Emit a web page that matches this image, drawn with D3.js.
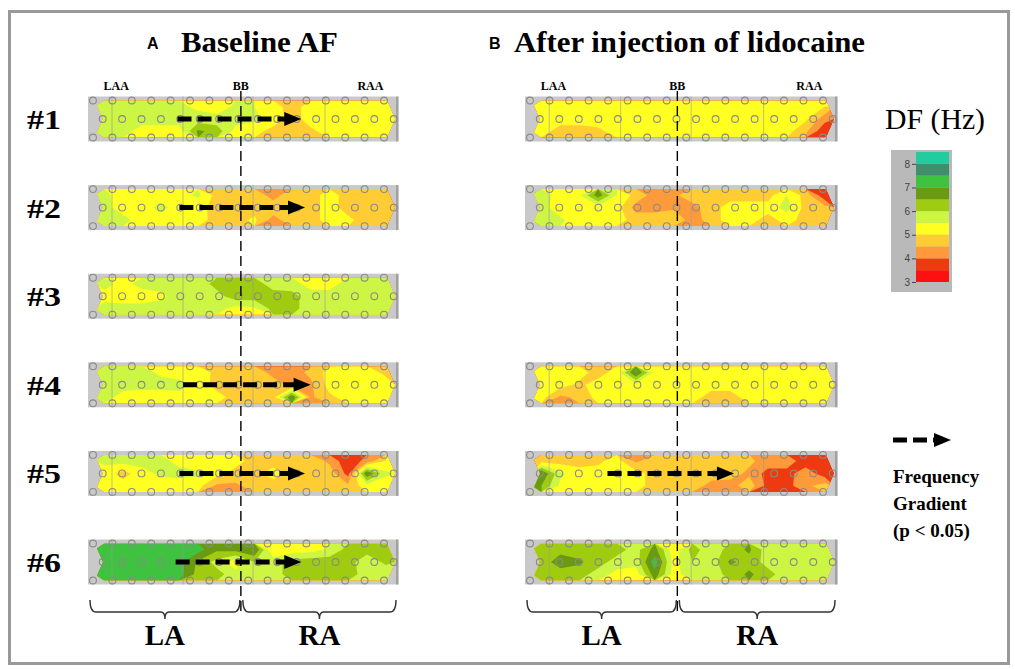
<!DOCTYPE html>
<html>
<head>
<meta charset="utf-8">
<script src="https://cdn.jsdelivr.net/npm/d3@7"></script>
<style>
  body { margin: 0; background: #fff; }
  svg { display: block; }
</style>
</head>
<body>
<div id="chart"></div>
<script>
// dominant frequency (Hz) per electrode, rows = top / middle / bottom, 16 columns LAA -> RAA
const baselineDF1 = [
  [5.7, 5.7, 5.7, 5.7, 5.6, 5.4, 5.2, 5.6, 5.5, 5.2, 4.8, 5.2, 5.2, 5.2, 5.2, 5.2],
  [5.7, 5.7, 5.7, 5.7, 5.7, 5.7, 5.7, 5.7, 5.6, 5.3, 4.8, 5.2, 5.2, 5.2, 5.2, 5.2],
  [5.7, 5.7, 5.3, 5.3, 5.3, 6.6, 6.3, 5.3, 5.2, 4.8, 4.6, 4.9, 5.2, 5.2, 5.2, 5.2]
];
const baselineDF2 = [
  [5.6, 5.3, 5.2, 5.2, 5.3, 5.6, 4.8, 4.8, 4.8, 4.3, 4.8, 4.8, 5.2, 4.8, 4.8, 4.8],
  [5.7, 5.2, 5.2, 5.7, 5.2, 5.1, 4.9, 4.8, 4.8, 4.8, 4.8, 4.8, 5.2, 4.8, 4.8, 4.8],
  [5.7, 5.7, 5.2, 5.2, 5.2, 5.2, 4.8, 4.8, 5.1, 4.3, 4.8, 4.8, 5.2, 5.1, 4.8, 4.8]
];
const baselineDF3 = [
  [5.7, 5.3, 5.7, 5.7, 5.7, 5.7, 6.2, 6.3, 6.2, 5.8, 5.7, 5.3, 5.3, 5.7, 5.7, 5.7],
  [5.3, 5.2, 5.2, 5.4, 5.7, 5.7, 5.8, 6.3, 6.3, 6.2, 6.2, 5.7, 5.7, 5.7, 5.7, 5.7],
  [5.7, 5.7, 5.7, 5.7, 5.7, 5.7, 5.7, 5.3, 5.4, 6.2, 6.2, 5.7, 5.7, 5.7, 5.7, 5.7]
];
const baselineDF4 = [
  [5.7, 5.7, 5.7, 5.4, 5.2, 5.2, 4.9, 4.8, 4.9, 4.3, 4.3, 4.6, 5.2, 5.2, 5.2, 4.9],
  [5.7, 5.7, 5.7, 5.7, 5.7, 5.3, 4.8, 4.8, 4.9, 4.8, 4.3, 4.4, 5.2, 5.2, 5.2, 5.2],
  [5.7, 5.3, 5.2, 5.2, 5.3, 5.2, 5.2, 4.8, 4.8, 4.8, 7.0, 4.4, 4.9, 5.2, 5.2, 5.2]
];
const baselineDF5 = [
  [5.6, 5.7, 5.7, 5.7, 5.3, 5.2, 5.2, 5.2, 4.8, 4.8, 4.8, 4.8, 4.4, 3.6, 4.2, 5.0],
  [5.3, 4.8, 5.3, 5.6, 5.7, 5.6, 5.2, 4.8, 4.8, 5.2, 4.8, 4.8, 4.8, 3.8, 7.0, 5.6],
  [5.2, 5.2, 5.2, 5.2, 5.2, 5.2, 4.4, 4.4, 4.8, 4.8, 4.8, 4.8, 4.8, 4.6, 5.3, 5.2]
];
const baselineDF6 = [
  [7.2, 7.2, 7.2, 7.2, 7.2, 7.2, 6.6, 6.7, 7.0, 5.0, 5.2, 5.3, 5.6, 6.2, 6.2, 6.2],
  [7.2, 7.2, 7.2, 7.2, 7.2, 6.4, 5.8, 5.2, 6.0, 5.8, 6.2, 6.3, 6.3, 6.2, 5.7, 6.1],
  [7.2, 7.2, 7.2, 7.2, 7.2, 6.3, 6.2, 5.7, 5.6, 5.8, 6.2, 6.3, 6.3, 6.3, 5.7, 5.7]
];

const lidocaineDF1 = [
  [5.2, 5.2, 5.2, 5.2, 5.2, 5.2, 5.2, 5.2, 5.2, 5.2, 5.2, 5.2, 5.2, 5.2, 5.2, 5.0],
  [5.2, 5.2, 5.2, 5.2, 5.2, 5.2, 5.2, 5.2, 5.2, 5.2, 5.2, 5.2, 5.2, 5.2, 5.1, 4.2],
  [5.2, 4.8, 4.8, 4.9, 5.2, 5.2, 5.2, 5.2, 5.2, 5.2, 5.2, 5.2, 5.2, 5.2, 4.6, 3.6]
];
const lidocaineDF2 = [
  [5.7, 5.3, 5.4, 6.8, 5.5, 4.8, 4.3, 4.4, 4.8, 4.8, 4.8, 4.8, 4.8, 5.5, 4.8, 3.6],
  [5.7, 5.2, 5.2, 5.2, 5.2, 4.3, 4.3, 4.4, 4.3, 4.8, 5.2, 5.2, 5.2, 5.7, 4.8, 4.7],
  [5.7, 5.6, 5.2, 5.2, 5.2, 4.8, 4.8, 5.0, 4.2, 4.8, 5.2, 5.2, 4.8, 5.2, 4.8, 4.8]
];
const lidocaineDF4 = [
  [5.2, 5.2, 5.2, 4.8, 5.2, 7.1, 5.3, 5.2, 5.2, 5.2, 5.2, 5.2, 5.2, 5.2, 5.2, 5.2],
  [5.2, 5.2, 4.9, 5.2, 5.2, 5.3, 5.2, 5.2, 5.2, 5.2, 5.2, 5.2, 5.2, 5.2, 5.2, 5.2],
  [5.2, 4.4, 4.6, 5.2, 5.2, 5.2, 5.2, 5.2, 5.2, 4.8, 4.8, 5.2, 5.2, 5.2, 5.2, 5.2]
];
const lidocaineDF5 = [
  [4.8, 4.8, 4.8, 4.9, 5.2, 4.4, 4.8, 4.8, 4.8, 4.8, 4.8, 4.6, 4.3, 4.3, 3.7, 3.7],
  [7.0, 5.6, 5.2, 5.2, 5.2, 5.2, 4.8, 4.8, 4.8, 4.8, 4.7, 4.4, 3.8, 3.8, 4.3, 3.7],
  [6.5, 5.4, 5.2, 5.2, 5.2, 5.2, 4.8, 4.8, 4.8, 4.3, 4.3, 4.8, 3.8, 3.8, 4.4, 4.7]
];
const lidocaineDF6 = [
  [6.2, 6.3, 6.2, 6.2, 6.2, 5.8, 6.7, 5.2, 6.2, 5.7, 6.2, 6.6, 5.7, 5.7, 5.7, 5.7],
  [6.2, 6.8, 6.6, 6.2, 5.8, 5.7, 7.3, 5.3, 6.0, 5.7, 6.6, 6.3, 5.8, 5.7, 5.7, 5.7],
  [6.2, 6.2, 6.2, 5.8, 5.3, 5.2, 6.8, 5.3, 5.8, 5.7, 6.2, 6.6, 6.2, 5.7, 5.7, 5.7]
];

const rowLabels = ['#1', '#2', '#3', '#4', '#5', '#6'];
const baselineStrips = [baselineDF1, baselineDF2, baselineDF3, baselineDF4, baselineDF5, baselineDF6];
const lidocaineStrips = [lidocaineDF1, lidocaineDF2, null, lidocaineDF4, lidocaineDF5, lidocaineDF6];

// significant frequency gradients, in electrode-column units
const baselineArrows = [
  { row: 0, from: 4.4, to: 11.0 },
  { row: 1, from: 4.5, to: 11.2 },
  { row: 3, from: 4.7, to: 11.5 },
  { row: 4, from: 4.5, to: 11.2 },
  { row: 5, from: 4.3, to: 11.0 }
];
const lidocaineArrows = [{ row: 4, from: 4.0, to: 10.7 }];

const dfThresholds = [3, 3.5, 4, 4.5, 5, 5.5, 6, 6.5, 7, 7.5, 8];
const dfColors = ['#ff1010', '#ee3a10', '#ff9a3a', '#ffcc33', '#ffff22', '#ccf544',
  '#9fcc10', '#6a9a12', '#3fc23f', '#3f8f6c', '#22cc9f'];
const dfTicks = [3, 4, 5, 6, 7, 8];
const siteLabels = ['LAA', 'BB', 'RAA'];
const atriumLabels = ['LA', 'RA'];

const width = 1015;
const height = 669;
const serif = "'Liberation Serif', 'DejaVu Serif', serif";
const sans = "'Liberation Sans', Arial, sans-serif";

const nCols = 16;
const nRows = 3;
const halfStrip = 18.5;

const svg = d3
  .select('#chart')
  .append('svg')
  .attr('width', width)
  .attr('height', height);

svg.append('rect')
  .attr('x', 9.5).attr('y', 11.5)
  .attr('width', 999).attr('height', 652)
  .attr('fill', '#fff')
  .attr('stroke', '#999')
  .attr('stroke-width', 3);

const rowY = d3.scaleLinear().domain([0, 5]).range([119, 562]);
const color = d3.scaleThreshold().domain(dfThresholds.slice(1)).range(dfColors);

// row labels
svg.append('g')
  .selectAll('text')
  .data(rowLabels)
  .join('text')
  .attr('x', 27)
  .attr('y', (d, i) => rowY(i) + 10)
  .attr('font-family', serif)
  .attr('font-weight', 'bold')
  .attr('font-size', 28)
  .attr('textLength', 34)
  .attr('lengthAdjust', 'spacingAndGlyphs')
  .text((d) => d);

const panels = [
  { letter: 'A', title: 'Baseline AF', letterX: 147, titleX: 181, titleW: 157,
    x0: 95, x1: 395, bbCol: 7.78, strips: baselineStrips, arrows: baselineArrows },
  { letter: 'B', title: 'After injection of lidocaine', letterX: 489, titleX: 514, titleW: 351,
    x0: 532, x1: 834, bbCol: 7.7, strips: lidocaineStrips, arrows: lidocaineArrows }
];

const defs = svg.append('defs');

function drawArrow(g, xa, xb, y) {
  g.append('line')
    .attr('x1', xa).attr('x2', xb - 14)
    .attr('y1', y).attr('y2', y)
    .attr('stroke', '#000')
    .attr('stroke-width', 5)
    .attr('stroke-dasharray', '14,6');
  g.append('path')
    .attr('d', `M${xb - 17},${y - 7}L${xb},${y}L${xb - 17},${y + 7}Z`)
    .attr('fill', '#000');
}

panels.forEach((p, pi) => {
  const g = svg.append('g');
  const gx = d3.scaleLinear().domain([0, nCols]).range([p.x0, p.x1]);
  const ex = d3.scaleLinear().domain([0, 15]).range([p.x0 - 2, p.x1 - 11]);
  const step = ex(1) - ex(0);
  const bbX = gx(p.bbCol);

  g.append('text')
    .attr('x', p.letterX).attr('y', 49)
    .attr('font-family', sans).attr('font-weight', 'bold').attr('font-size', 16)
    .text(p.letter);
  g.append('text')
    .attr('x', p.titleX).attr('y', 52)
    .attr('font-family', serif).attr('font-weight', 'bold').attr('font-size', 30)
    .attr('textLength', p.titleW).attr('lengthAdjust', 'spacingAndGlyphs')
    .text(p.title);

  // LAA / BB / RAA
  g.selectAll('.site')
    .data(siteLabels)
    .join('text')
    .attr('x', (d, i) => [ex(1.2), bbX, ex(14.3)][i])
    .attr('y', 90)
    .attr('text-anchor', 'middle')
    .attr('font-family', serif).attr('font-weight', 'bold').attr('font-size', 12)
    .text((d) => d);

  p.strips.forEach((values, r) => {
    if (!values) return;
    const cy = rowY(r);
    const top = cy - halfStrip;
    const bot = cy + halfStrip;
    const gy = d3.scaleLinear().domain([0, nRows]).range([top, bot]);
    const s = g.append('g');

    s.append('rect')
      .attr('x', p.x0 - 7).attr('y', top - 4)
      .attr('width', p.x1 - p.x0 + 11).attr('height', bot - top + 8)
      .attr('fill', '#c9c9c9');

    const clipId = `clip-${pi}-${r}`;
    defs.append('clipPath').attr('id', clipId)
      .append('path')
      .attr('d', `M${p.x0},${top}L${p.x1 - 8},${top}L${p.x1},${cy}L${p.x1 - 8},${bot}L${p.x0},${bot}L${p.x0 + 8},${cy}Z`);

    const contours = d3.contours()
      .size([nCols, nRows])
      .thresholds(dfThresholds)(values.flat());

    const proj = d3.geoTransform({
      point: function (x, y) {
        this.stream.point(gx(x), gy(y));
      }
    });

    s.append('g')
      .attr('clip-path', `url(#${clipId})`)
      .selectAll('path')
      .data(contours)
      .join('path')
      .attr('d', d3.geoPath(proj))
      .attr('fill', (d) => color(d.value));

    // panel dividers on the catheter
    s.selectAll('.div')
      .data([0.98, 4.64, 8.25, 11.96])
      .join('line')
      .attr('x1', (d) => ex(d)).attr('x2', (d) => ex(d))
      .attr('y1', top - 4).attr('y2', bot + 4)
      .attr('stroke', '#999').attr('stroke-opacity', 0.6).attr('stroke-width', 1);
    s.append('line')
      .attr('x1', p.x1 + 2).attr('x2', p.x1 + 2)
      .attr('y1', top - 4).attr('y2', bot + 4)
      .attr('stroke', '#888').attr('stroke-width', 1.2);

    // electrodes
    const electrodes = [];
    d3.range(16).forEach((i) => {
      electrodes.push([ex(i), top]);
      electrodes.push([ex(i) + step / 2, cy]);
      electrodes.push([ex(i), bot]);
    });
    s.selectAll('circle')
      .data(electrodes)
      .join('circle')
      .attr('cx', (d) => d[0]).attr('cy', (d) => d[1])
      .attr('r', 3.4)
      .attr('fill', 'none')
      .attr('stroke', '#8a8a8a')
      .attr('stroke-width', 1.1);
  });

  // BB dashed line
  g.append('line')
    .attr('x1', bbX).attr('x2', bbX)
    .attr('y1', 91).attr('y2', 616)
    .attr('stroke', '#000').attr('stroke-width', 1.4)
    .attr('stroke-dasharray', '10,5');

  p.arrows.forEach((a) => drawArrow(g, gx(a.from), gx(a.to), rowY(a.row)));

  // LA / RA braces
  const braces = [[p.x0 - 5, bbX - 1], [bbX + 2, p.x1 + 1]];
  braces.forEach((b, i) => {
    const xm = (b[0] + b[1]) / 2;
    const path = d3.path();
    path.moveTo(b[0], 600);
    path.quadraticCurveTo(b[0], 612, b[0] + 6, 612);
    path.lineTo(xm - 4, 612);
    path.quadraticCurveTo(xm, 612, xm, 619);
    path.quadraticCurveTo(xm, 612, xm + 4, 612);
    path.lineTo(b[1] - 6, 612);
    path.quadraticCurveTo(b[1], 612, b[1], 600);
    g.append('path')
      .attr('d', path.toString())
      .attr('fill', 'none').attr('stroke', '#333').attr('stroke-width', 1.4);
    g.append('text')
      .attr('x', xm).attr('y', 645)
      .attr('text-anchor', 'middle')
      .attr('font-family', serif).attr('font-weight', 'bold').attr('font-size', 29)
      .text(atriumLabels[i]);
  });
});

// colour key
const key = svg.append('g');
key.append('text')
  .attr('x', 885).attr('y', 129)
  .attr('font-family', serif).attr('font-size', 29)
  .attr('textLength', 100).attr('lengthAdjust', 'spacingAndGlyphs')
  .text('DF (Hz)');
key.append('rect')
  .attr('x', 891).attr('y', 150).attr('width', 61).attr('height', 142)
  .attr('fill', '#b9b9b9');
const ky = d3.scaleLinear().domain([3, 8.5]).range([282, 152]);
key.selectAll('.band')
  .data(dfThresholds)
  .join('rect')
  .attr('x', 916).attr('width', 33)
  .attr('y', (d) => ky(d + 0.5))
  .attr('height', (d) => ky(d) - ky(d + 0.5))
  .attr('fill', (d) => color(d));
const keyAxis = key.append('g')
  .attr('transform', 'translate(916,0)')
  .call(d3.axisLeft(ky).tickValues(dfTicks).tickSize(4).tickPadding(2).tickFormat(d3.format('d')));
keyAxis.select('.domain').remove();
keyAxis.selectAll('text').attr('fill', '#444').attr('font-family', sans).attr('font-size', 10);
keyAxis.selectAll('line').attr('stroke', '#444');

drawArrow(key, 893, 951, 440);
key.selectAll('.note')
  .data(['Frequency', 'Gradient', '(p < 0.05)'])
  .join('text')
  .attr('x', 893)
  .attr('y', (d, i) => 483 + i * 27)
  .attr('font-family', serif).attr('font-weight', 'bold').attr('font-size', 19)
  .text((d) => d);
</script>
</body>
</html>
